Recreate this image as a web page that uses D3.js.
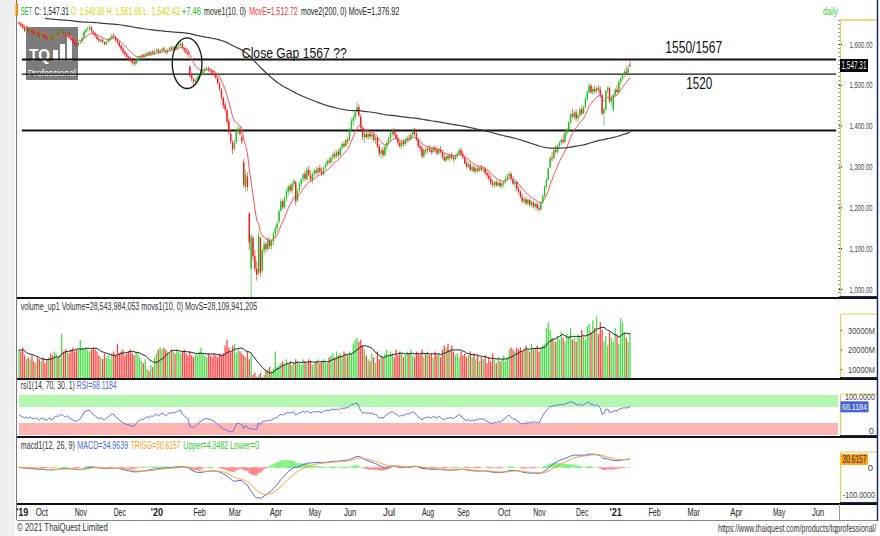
<!DOCTYPE html>
<html><head><meta charset="utf-8">
<script src="https://cdn.jsdelivr.net/npm/d3@7"></script>
<style>body{margin:0;background:#fff}svg{display:block}text{font-family:"Liberation Sans",Arial,sans-serif}</style>
</head><body><svg id="c" width="880" height="536"></svg>
<script>
// ---------------- DATA (SET index, daily, Sep 13 2019 - Jan 14 2021) ----------------
const opens = [
1652,1650,1646,1641,1633,1637,1631,1635,1629,1626, 1629,1623,1618,1624,1620,1615,1611,1619,1614,1611,
1619,1626,1621,1627,1631,1626,1619,1626,1616,1611, 1604,1601,1597,1603,1606,1616,1629,1636,1637,1641,
1631,1626,1619,1613,1607,1611,1604,1599,1606,1609, 1614,1621,1617,1611,1604,1596,1589,1581,1576,1569,
1566,1561,1556,1551,1559,1566,1567,1573,1569,1574, 1579,1574,1581,1577,1583,1586,1579,1584,1589,1584,
1579,1586,1591,1587,1593,1589,1596,1597,1601,1589, 1584,1579,1545,1523,1514,1507,1513,1517,1525,1529,
1534,1539,1541,1536,1534,1529,1524,1516,1503,1488, 1468,1452,1438,1412,1380,1360,1345,1360,1388,1392,
1372,1310,1250,1275,1185,1050,1125,1080,1050,1040, 1125,1045,1095,1110,1098,1120,1105,1118,1135,1148,
1165,1192,1215,1200,1222,1238,1252,1240,1258,1262, 1218,1242,1258,1270,1282,1268,1292,1278,1265,1282,
1290,1285,1296,1288,1282,1298,1305,1314,1310,1322, 1330,1325,1336,1328,1345,1355,1350,1365,1365,1392,
1412,1420,1435,1445,1422,1395,1372,1380,1372,1380, 1374,1378,1365,1370,1350,1332,1340,1328,1348,1358,
1368,1380,1388,1378,1370,1358,1350,1360,1355,1365, 1370,1368,1378,1385,1380,1365,1350,1345,1325,1340,
1338,1345,1340,1335,1346,1340,1332,1342,1336,1322, 1315,1325,1320,1328,1322,1318,1326,1332,1340,1330,
1322,1308,1300,1305,1292,1298,1288,1295,1290,1298, 1292,1295,1284,1278,1270,1260,1255,1262,1254,1260,
1252,1258,1262,1270,1278,1282,1270,1258,1262,1245, 1238,1225,1215,1220,1210,1218,1206,1212,1202,1208,
1198,1195,1212,1228,1250,1268,1298,1320,1320,1340, 1336,1350,1358,1365,1360,1382,1390,1408,1428,1422,
1432,1418,1425,1440,1430,1445,1465,1482,1498,1482, 1490,1485,1492,1488,1475,1430,1440,1485,1492,1460,
1440,1475,1488,1482,1508,1515,1525,1532,1530,1548.30];
const highs = [
1656,1653,1648,1643,1641,1639,1638,1637,1632,1633, 1632,1626,1628,1627,1622,1618,1621,1622,1617,1623,
1629,1628,1631,1634,1633,1628,1628,1628,1619,1613, 1607,1605,1605,1609,1618,1633,1639,1643,1646,1644,
1634,1629,1622,1615,1614,1613,1607,1608,1613,1618, 1625,1626,1620,1614,1607,1599,1592,1584,1579,1572,
1569,1564,1559,1563,1568,1572,1576,1576,1578,1582, 1582,1584,1585,1586,1589,1590,1586,1592,1593,1587,
1589,1594,1595,1596,1597,1599,1603,1606,1605,1592, 1588,1582,1548,1530,1518,1516,1522,1528,1535,1540,
1544,1546,1545,1541,1538,1533,1528,1520,1508,1492, 1472,1460,1442,1418,1390,1365,1365,1392,1400,1398,
1378,1318,1292,1285,1188,1135,1130,1095,1068,1140, 1128,1098,1118,1115,1128,1125,1122,1140,1155,1165,
1195,1222,1220,1228,1245,1255,1258,1262,1270,1265, 1245,1262,1272,1285,1290,1298,1302,1290,1285,1295,
1298,1300,1305,1298,1300,1310,1318,1322,1325,1335, 1338,1340,1342,1348,1360,1362,1368,1372,1395,1418,
1425,1438,1458,1452,1428,1400,1385,1390,1385,1388, 1382,1385,1375,1372,1355,1345,1348,1352,1362,1372,
1385,1392,1395,1385,1378,1365,1362,1368,1370,1375, 1378,1382,1392,1395,1388,1370,1358,1352,1345,1348,
1350,1352,1348,1350,1352,1346,1345,1350,1340,1332, 1328,1332,1330,1335,1328,1330,1335,1345,1346,1338,
1326,1315,1312,1310,1302,1305,1298,1302,1300,1305, 1300,1298,1290,1285,1278,1268,1265,1268,1265,1266,
1262,1265,1275,1282,1288,1286,1275,1265,1264,1252, 1242,1232,1225,1226,1222,1222,1215,1216,1212,1210,
1205,1215,1232,1255,1272,1298,1325,1335,1345,1352, 1355,1362,1370,1378,1385,1395,1412,1432,1442,1436,
1440,1430,1445,1448,1450,1470,1488,1505,1502,1495, 1498,1496,1500,1495,1478,1445,1488,1498,1496,1472,
1478,1492,1500,1512,1520,1528,1538,1545,1548,1561.66];
const lows = [
1646,1641,1636,1629,1630,1627,1628,1625,1621,1623, 1619,1614,1615,1617,1612,1608,1609,1612,1606,1608,
1616,1618,1619,1624,1622,1617,1616,1612,1606,1600, 1595,1593,1594,1600,1603,1613,1626,1632,1634,1629,
1622,1616,1609,1604,1603,1602,1596,1597,1603,1606, 1611,1614,1606,1600,1591,1583,1575,1570,1563,1558,
1555,1550,1546,1548,1556,1562,1564,1566,1566,1571, 1571,1571,1574,1573,1579,1576,1575,1580,1581,1576,
1575,1582,1584,1583,1585,1585,1591,1593,1586,1578, 1574,1567,1518,1508,1500,1502,1508,1512,1520,1525,
1529,1533,1532,1529,1525,1520,1513,1500,1484,1462, 1442,1432,1402,1378,1355,1330,1338,1355,1378,1375,
1355,1248,1238,1240,1095,975,1070,1040,1020,1035, 1030,1040,1085,1090,1092,1098,1096,1108,1125,1140,
1160,1188,1195,1196,1215,1230,1236,1235,1248,1205, 1212,1238,1250,1262,1265,1265,1275,1262,1258,1275,
1278,1280,1282,1278,1278,1292,1300,1305,1306,1315, 1318,1320,1322,1325,1340,1345,1348,1355,1362,1388,
1400,1412,1428,1420,1390,1365,1358,1368,1365,1368, 1365,1360,1355,1345,1325,1320,1322,1325,1340,1352,
1362,1372,1375,1365,1352,1345,1342,1348,1350,1358, 1362,1365,1372,1375,1362,1345,1338,1320,1320,1330,
1332,1335,1330,1332,1336,1328,1328,1332,1318,1312, 1310,1315,1312,1318,1310,1315,1320,1328,1325,1318,
1305,1295,1296,1288,1285,1285,1282,1285,1286,1288, 1285,1280,1272,1265,1255,1250,1248,1250,1250,1248,
1246,1250,1258,1265,1270,1266,1255,1248,1240,1232, 1222,1210,1208,1205,1204,1202,1200,1198,1195,1192,
1190,1192,1208,1225,1246,1265,1295,1312,1318,1330, 1332,1345,1352,1355,1358,1375,1388,1404,1418,1415,
1412,1408,1420,1425,1428,1442,1460,1478,1478,1475, 1478,1480,1482,1470,1425,1400,1436,1478,1455,1450,
1432,1470,1480,1480,1500,1510,1518,1525,1528,1542.42];
const closes = [
1650,1645,1640,1632,1638,1630,1635,1628,1625,1630, 1622,1618,1625,1620,1615,1612,1618,1615,1610,1620,
1625,1622,1628,1630,1625,1620,1625,1615,1610,1605, 1600,1598,1602,1605,1615,1630,1635,1638,1640,1632,
1625,1620,1612,1608,1610,1605,1600,1605,1610,1615, 1620,1618,1610,1605,1595,1588,1580,1575,1568,1565,
1560,1555,1552,1560,1565,1568,1572,1570,1575,1578, 1575,1580,1578,1582,1585,1580,1583,1588,1585,1580,
1585,1590,1588,1592,1590,1595,1598,1600,1590,1585, 1580,1575,1522,1515,1508,1512,1518,1524,1530,1535,
1538,1540,1537,1535,1530,1525,1518,1505,1490,1470, 1450,1440,1410,1385,1362,1342,1358,1388,1392,1380,
1362,1255,1280,1250,1114,1129,1080,1050,1035,1130, 1040,1095,1110,1098,1120,1105,1118,1135,1148,1160,
1190,1215,1200,1222,1240,1250,1242,1258,1265,1215, 1240,1258,1268,1280,1270,1292,1280,1268,1282,1290,
1285,1296,1288,1282,1298,1305,1314,1310,1322,1330, 1325,1336,1328,1345,1355,1350,1365,1362,1390,1412,
1420,1432,1445,1425,1395,1372,1380,1372,1380,1374, 1378,1365,1370,1350,1332,1340,1328,1348,1358,1368,
1380,1388,1378,1370,1358,1350,1360,1355,1365,1370, 1368,1378,1385,1380,1365,1350,1345,1325,1340,1338,
1345,1340,1335,1346,1340,1332,1342,1336,1322,1315, 1325,1320,1328,1322,1318,1326,1332,1340,1330,1322,
1308,1300,1305,1292,1298,1288,1295,1290,1298,1292, 1295,1284,1278,1270,1260,1255,1262,1254,1260,1252,
1258,1262,1270,1278,1282,1270,1258,1262,1245,1238, 1225,1215,1220,1210,1218,1206,1212,1202,1208,1198,
1195,1212,1228,1250,1268,1295,1320,1318,1340,1336, 1350,1358,1365,1360,1382,1390,1408,1428,1422,1432,
1418,1425,1440,1430,1445,1465,1482,1498,1482,1490, 1485,1492,1488,1475,1430,1440,1485,1492,1460,1468,
1475,1488,1482,1508,1515,1525,1532,1528,1539.85,1547.31];
// volume in units of 1000M
const volumeBn = [
20,19,21,17,15,16,15,17,14,13, 16,15,14,16,13,15,16,18,17,19, 18,16,17,28,19,20,19,18,20,21,
19,20,20,25,21,20,21,20,19,20, 21,20,19,17,16,15,18,16,17,15, 18,19,17,23,18,19,20,17,18,19,
20,18,17,19,18,16,14,13,15,10, 9,12,11,16,18,20,21,20,21,20, 19,18,20,19,18,20,19,18,19,20,
18,17,19,17,16,18,17,19,21,18, 17,16,18,17,16,18,17,16,18,17, 18,22,25,21,19,22,23,18,20,19,
18,17,16,19,15,17,7,8,6,7, 8,6,7,9,10,11,9,10,19,11, 12,13,14,12,15,13,14,12,13,15,
14,13,12,15,14,13,15,14,12,13, 14,15,13,14,15,14,13,16,17,18, 16,19,17,18,16,19,18,17,19,18,
23,25,26,24,25,22,20,17,15,14, 18,16,13,19,15,17,16,18,20,17, 19,18,16,20,17,19,18,16,17,19,
18,20,17,16,19,18,17,20,16,18, 19,17,18,16,19,17,18,16,20,22, 21,23,20,22,19,17,18,16,19,17,
18,16,17,19,16,18,15,17,14,16, 15,17,13,16,14,18,15,13,16,14, 15,17,14,16,20,21,20,19,21,20,
21,19,20,22,20,19,23,20,21,22, 19,21,22,23,31,34,30,26,25,24, 27,25,29,26,24,28,27,31,25,26,
24,28,26,30,27,25,32,33,29,35, 31,37,28,34,30,24,27,22,29,26, 24,31,27,23,36,34,29,26,24,28.54];

const monthLabels = ["'19","Oct","Nov","Dec","'20","Feb","Mar","Apr","May","Jun","Jul","Aug","Sep","Oct","Nov","Dec","'21","Feb","Mar","Apr","May","Jun"];
const monthIdx    = [1.5,12,33,54,74,97,116,138,159,178,199,220,239,261,280,303,321,342,363,386,409,430];
const priceTicks = [1000,1100,1200,1300,1400,1500,1600];
const volTicks = [10000,20000,30000];
const levels = [1562,1526,1388];
const ema200Seed = 1668;

// header / legend texts with their measured start and end x
const headerParts = [["SET","#22aa22",20.7,32.2],["C: 1,547.31","#222",34.5,69],["O: 1,548.30","#d6d600",71,104.3],["H: 1,561.66","#d6d600",106.7,141.7],["L: 1,542.42","#d6d600",143.3,180],["+7.46","#22bb22",181.7,201],["move1(10, 0)","#222",204,246],["MovE=1,512.72","#ff3030",249.3,297.7],["move2(200, 0)","#222",301,346.7],["MovE=1,376.92","#222",348.7,399.3]];
const volLabel = "volume_up1 Volume=28,543,984,053 movs1(10, 0) MovS=28,109,941,205";
const rsiParts = [["rsi1(14, 70, 30, 1)","#333",20.7,75],["RSI=68.1184","#4a6ae0",76.7,116.7]];
const macdParts = [["macd1(12, 26, 9)","#333",20.7,75],["MACD=34.9639","#4a6ae0",77.3,128.3],["TRIGG=30.6157","#ff9a22",130.7,180.7],["Upper=4.3482","#33cc33",183.3,228.3],["Lower=0","#33cc33",230,259.3]];

// ---------------- INDICATORS ----------------
const N = closes.length;
function ema(arr, n, seed){ const k=2/(n+1); let e = seed===undefined?arr[0]:seed; return arr.map((v,i)=>{ if(i===0&&seed===undefined){e=v;return e;} e=v*k+e*(1-k); return e;}); }
const ema10 = ema(closes,10);
const ema200 = ema(closes,200,ema200Seed);
const e12 = ema(closes,12), e26 = ema(closes,26);
const macd = e12.map((v,i)=>v-e26[i]);
const sig = ema(macd,9,0);
const hist = macd.map((v,i)=>v-sig[i]);
const rsi = (()=>{ let ag=4, al=4; const out=[50]; for(let i=1;i<N;i++){ const d=closes[i]-closes[i-1]; ag=(ag*13+Math.max(d,0))/14; al=(al*13+Math.max(-d,0))/14; out.push(100-100/(1+ag/al)); } return out; })();
const volM = volumeBn.map(v=>v*1000);
const volMA = volM.map((v,i)=>d3.mean(volM.slice(Math.max(0,i-9),i+1)));
const idx = d3.range(N);

// ---------------- SCALES ----------------
const x = d3.scaleLinear().domain([0,441]).range([19,838]);
const yP = d3.scaleLinear().domain([1000,1600]).range([289,44]);
const yV = d3.scaleLinear().domain([5400,30000]).range([378,330]);
const yR = d3.scaleLinear().domain([0,100]).range([435,395]);
const yM = d3.scaleLinear().domain([-100,0]).range([495,467.5]);

const svg = d3.select('#c');
const GREEN="#1ec01e", RED="#f01818", VG="#4cdc4c", VR="#ff4545";

function squeeze(node, xa, len, anchor){
  node.setAttribute('text-anchor','start'); node.setAttribute('x',0);
  const w = node.getComputedTextLength() || len;
  const x0 = anchor==='end' ? xa-len : anchor==='middle' ? xa-len/2 : xa;
  node.setAttribute('transform',`translate(${x0},0) scale(${len/w},1)`);
}
function T(p,xx,yy,s,o={}){
  const t=p.append('text').attr('x',xx).attr('y',yy).text(s).attr('font-size',o.size||11).attr('fill',o.fill||'#333').attr('text-anchor',o.anchor||'start');
  if(o.weight)t.attr('font-weight',o.weight);
  if(o.len) squeeze(t.node(),xx,o.len,o.anchor||'start');
  return t;
}
function TS(p,yy,parts,size){ parts.forEach(([s,c,x0,x1])=>T(p,x0,yy,s,{size:size,fill:c,len:x1-x0})); }

svg.append('rect').attr('width',880).attr('height',536).attr('fill','#fff');
svg.append('rect').attr('x',0).attr('y',0).attr('width',15).attr('height',536).attr('fill','#efefef');

const defs = svg.append('defs');
function clip(id,y0,y1){ defs.append('clipPath').attr('id',id).append('rect').attr('x',17).attr('y',y0).attr('width',821).attr('height',y1-y0); return `url(#${id})`; }
clip('cm',1,297);

// ---------- MAIN PANEL ----------
const lg = svg.append('g');
lg.append('rect').attr('x',26).attr('y',27).attr('width',52).attr('height',53).attr('fill','#6e6e6e').attr('opacity',0.9);
T(lg,29,61,'TQ',{size:17,weight:'bold',fill:'#fff',len:21});
[[53,50,5,11],[60,44,5,17],[67,36,5,25]].forEach(([bx,by,bw,bh])=>lg.append('rect').attr('x',bx).attr('y',by).attr('width',bw).attr('height',bh).attr('fill','#fff'));
T(lg,28,76,'Professional',{size:9.5,fill:'#fff',len:48});

const gC = svg.append('g').attr('clip-path','url(#cm)');
gC.selectAll('line.lvl').data(levels).join('line').attr('x1',x(1.5)).attr('x2',x(440)).attr('y1',d=>yP(d)).attr('y2',d=>yP(d)).attr('stroke','#111').attr('stroke-width',(d,i)=>i===1?1.3:2);
const col = i=> closes[i]>=opens[i]?GREEN:RED;
gC.selectAll('line.wk').data(idx).join('line').attr('x1',i=>x(i)).attr('x2',i=>x(i)).attr('y1',i=>yP(highs[i])).attr('y2',i=>yP(lows[i])).attr('stroke',col).attr('stroke-width',0.8).attr('opacity',0.8);
gC.selectAll('rect.bd').data(idx).join('rect').attr('x',i=>x(i)-0.7).attr('width',1.4).attr('y',i=>yP(Math.max(opens[i],closes[i]))).attr('height',i=>Math.max(0.9,Math.abs(yP(opens[i])-yP(closes[i])))).attr('fill',col);
gC.append('path').datum(idx).attr('d',d3.line().x(i=>x(i)).y(i=>yP(ema10[i]))).attr('fill','none').attr('stroke','#ff5050').attr('stroke-width',1);
gC.append('path').datum(idx.filter(i=>i>=14)).attr('d',d3.line().x(i=>x(i)).y(i=>yP(ema200[i]))).attr('fill','none').attr('stroke','#3a3a3a').attr('stroke-width',1.2);
// annotations
const gap = {idx:90.5, price:1553, halfDays:8, halfPts:62};
svg.append('ellipse').attr('cx',x(gap.idx)).attr('cy',yP(gap.price)).attr('rx',x(gap.halfDays)-x(0)).attr('ry',yP(1000)-yP(1000+gap.halfPts)).attr('fill','none').attr('stroke','#111').attr('stroke-width',1.3);
T(svg,x(120),yP(1566),"Close Gap 1567 ??",{size:15,fill:'#111',len:105});
T(svg,x(348),yP(1578),"1550/1567",{size:17,fill:'#111',len:57});
T(svg,x(359.3),yP(1490),"1520",{size:17,fill:'#111',len:26});

TS(svg,15,headerParts,10.5);
T(svg,823,15,"daily",{size:10.5,fill:'#33cc33',len:15});

// ---------- VOLUME ----------
const gv = svg.append('g').attr('clip-path',clip('cv',300,378));
const vcol = i=> (i===0||closes[i]>=closes[i-1])?VG:VR;
gv.selectAll('rect').data(idx).join('rect').attr('x',i=>x(i)-0.65).attr('width',1.3).attr('y',i=>yV(volM[i])).attr('height',i=>Math.max(0,378-yV(volM[i]))).attr('fill',vcol);
gv.append('path').datum(idx).attr('d',d3.line().x(i=>x(i)).y(i=>yV(volMA[i]))).attr('fill','none').attr('stroke','#222').attr('stroke-width',1);
T(svg,20.7,310,volLabel,{size:10.5,fill:'#333',len:237});

// ---------- RSI ----------
svg.append('rect').attr('x',19).attr('y',yR(100)).attr('width',819).attr('height',yR(70)-yR(100)).attr('fill','#b4f7b0');
svg.append('rect').attr('x',19).attr('y',yR(30)).attr('width',819).attr('height',yR(0)-yR(30)).attr('fill','#ffb4b4');
svg.append('path').datum(idx).attr('d',d3.line().x(i=>x(i)).y(i=>yR(rsi[i]))).attr('fill','none').attr('stroke','#5a78e6').attr('stroke-width',1);
TS(svg,389.5,rsiParts,10.5);

// ---------- MACD ----------
const gd = svg.append('g').attr('clip-path',clip('cd',440,503));
gd.selectAll('rect.h').data(idx).join('rect').attr('x',i=>x(i)-0.95).attr('width',1.9).attr('y',i=>yM(Math.max(0,hist[i]))).attr('height',i=>Math.abs(yM(hist[i])-yM(0))).attr('fill',i=>hist[i]>=0?'#7ef07e':'#ff8282');
gd.selectAll('rect.z').data(idx.filter(i=>Math.floor(i/3)%2===0)).join('rect').attr('x',i=>x(i)-0.95).attr('width',1.9).attr('y',yM(0)-0.7).attr('height',1.4).attr('fill',i=>hist[i]>=0?'#7ef07e':'#ff9a9a');
gd.append('path').datum(idx).attr('d',d3.line().x(i=>x(i)).y(i=>yM(macd[i]))).attr('fill','none').attr('stroke','#4a6ae0').attr('stroke-width',1);
gd.append('path').datum(idx).attr('d',d3.line().x(i=>x(i)).y(i=>yM(sig[i]))).attr('fill','none').attr('stroke','#ffa030').attr('stroke-width',1);
TS(svg,449,macdParts,10.5);

// ---------- AXES / FRAME ----------
svg.append('line').attr('x1',16.5).attr('x2',16.5).attr('y1',0).attr('y2',520).attr('stroke','#777');
svg.append('rect').attr('x',15.5).attr('y',3).attr('width',2.5).attr('height',13).attr('fill','#f08a00');
// right price axis
const ax = svg.append('g').attr('transform','translate(839,0)').call(d3.axisRight(yP).tickValues(priceTicks).tickSize(3).tickFormat(d3.format(",.2f")));
ax.select('.domain').remove();
ax.selectAll('text').attr('dy','0.32em').attr('font-size',9.5).attr('fill','#444').attr('font-family','Liberation Sans, Arial').each(function(){ squeeze(this,33.5,23,'end'); });
svg.append('line').attr('x1',839).attr('x2',839).attr('y1',20).attr('y2',298).attr('stroke','#333').attr('stroke-dasharray','1,3');
svg.append('line').attr('x1',840.5).attr('x2',877).attr('y1',20).attr('y2',20).attr('stroke','#f2c84b').attr('stroke-width',1.5);
svg.append('line').attr('x1',840.5).attr('x2',840.5).attr('y1',20).attr('y2',298).attr('stroke','#f2c84b').attr('stroke-width',1);
svg.append('rect').attr('x',840).attr('y',yP(closes[N-1])-6.5).attr('width',28).attr('height',13).attr('fill','#000');
T(svg,854,yP(closes[N-1])+3.5,d3.format(",.2f")(closes[N-1]),{size:10,fill:'#fff',anchor:'middle',len:25});
// volume axis
const av = svg.append('g').attr('transform','translate(840,0)').call(d3.axisRight(yV).tickValues(volTicks).tickSize(2).tickFormat(d=>d+"M"));
av.select('.domain').remove();
av.selectAll('text').attr('dy','0.32em').attr('font-size',9.5).attr('fill','#444').attr('font-family','Liberation Sans, Arial').each(function(){ squeeze(this,35,27,'end'); });
svg.append('path').attr('d','M840.5,378 V316 q0,-2 2,-2 H877').attr('fill','none').attr('stroke','#f2c84b').attr('stroke-width',1.2);
// rsi axis
svg.append('path').attr('d','M840.5,436 V396 q0,-2 2,-2 H877').attr('fill','none').attr('stroke','#f2c84b').attr('stroke-width',1.2);
T(svg,875,400.5,"100.0000",{size:9,fill:'#444',anchor:'end',len:30});
T(svg,874,434,"0",{size:9.5,fill:'#444',anchor:'end'});
svg.append('rect').attr('x',840.5).attr('y',yR(rsi[N-1])-5.5).attr('width',28).attr('height',11).attr('fill','#3f63dd');
T(svg,854.5,yR(rsi[N-1])+3.5,"68.1184",{size:9.5,fill:'#fff',anchor:'middle',len:25});
// macd axis
svg.append('path').attr('d','M840.5,503 V454 q0,-2 2,-2 H877').attr('fill','none').attr('stroke','#f2c84b').attr('stroke-width',1.2);
svg.append('rect').attr('x',841).attr('y',yM(sig[N-1])-5.5).attr('width',27).attr('height',11).attr('fill','#ffa41c');
T(svg,854.5,yM(sig[N-1])+3.5,"30.6157",{size:10,fill:'#222',anchor:'middle',len:24});
T(svg,873,yM(0)+3.5,"0",{size:9.5,fill:'#444',anchor:'end'});
T(svg,875,yM(-100)+3.5,"-100.0000",{size:9.5,fill:'#444',anchor:'end',len:32});
// time axis
const axx = svg.append('g').attr('transform','translate(0,504)').call(d3.axisBottom(x).tickValues(monthIdx).tickSize(0).tickFormat((d,i)=>monthLabels[i]));
axx.select('.domain').remove();
axx.selectAll('text').attr('y',4).attr('font-size',11).attr('fill','#222').attr('font-family','Liberation Sans, Arial')
  .attr('font-weight',(d,i)=>monthLabels[i].startsWith("'")?'bold':'normal')
  .each(function(d,i){ squeeze(this,0,monthLabels[i].length*4.1,'middle'); });
// panel separators
[298,379,437,504].forEach(yy=>svg.append('line').attr('x1',17).attr('x2',877).attr('y1',yy).attr('y2',yy).attr('stroke','#111').attr('stroke-width',2));
svg.append('line').attr('x1',17).attr('x2',877).attr('y1',520.5).attr('y2',520.5).attr('stroke','#888');
svg.append('line').attr('x1',839.5).attr('x2',839.5).attr('y1',504).attr('y2',520).attr('stroke','#999');
svg.append('line').attr('x1',877.5).attr('x2',877.5).attr('y1',0).attr('y2',521).attr('stroke','#1c2a6a').attr('stroke-width',1.5);
[298,379,437,504].forEach(yy=>svg.append('line').attr('x1',840).attr('x2',877).attr('y1',yy-1.5).attr('y2',yy-1.5).attr('stroke','#1c2a6a').attr('stroke-width',1.2));
T(svg,17,531,"© 2021 ThaiQuest Limited",{size:11,fill:'#333',len:91});
T(svg,876,532,"https://www.thaiquest.com/products/tqprofessional/",{size:10.5,fill:'#333',anchor:'end',len:158});
</script></body></html>
